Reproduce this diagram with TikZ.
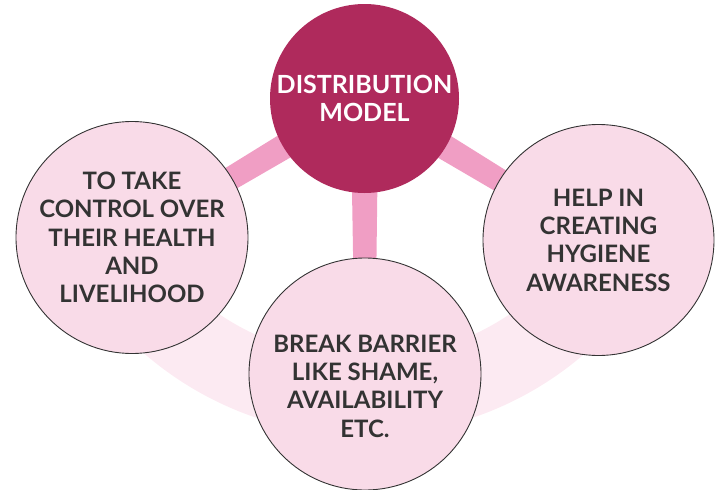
\documentclass[tikz,border=0pt]{standalone}
\usepackage{fontspec}
\setmainfont{Lato}
\usetikzlibrary{calc}
\definecolor{cmain}{HTML}{AF2A5C}
\definecolor{cbar}{HTML}{F09EC4}
\definecolor{cband}{HTML}{FCEAF2}
\definecolor{cfill}{HTML}{F9DBE8}
\definecolor{ctext}{HTML}{333333}
\tikzset{
  hub/.style={circle, fill=cmain, inner sep=0pt, minimum size=189pt, text=white, align=center,
    font=\fontsize{25}{28.5}\selectfont\bfseries},
  petal/.style={circle, fill=cfill, draw=ctext, line width=0.9pt, inner sep=0pt, minimum size=232pt,
    text=ctext, align=center, font=\fontsize{24}{28.3}\selectfont\bfseries},
  bar/.style={fill=cbar},
  band/.style={fill=cband, even odd rule}
}
\begin{document}
\begin{tikzpicture}[x=1pt,y=-1pt]
\useasboundingbox (0,0) rectangle (715,490);
\coordinate (o) at (364.5,98.5);
\begin{scope}
  \clip (364.5,98.5) -- (19,299) -- (19,600) -- (711,600) -- (711,299) -- cycle;
  \fill[band] (o) circle[radius=337pt] (o) circle[radius=260pt];
\end{scope}
\path (364.5,98.5) coordinate (cc);
\path (132,237.5) coordinate (lc);
\path (598.5,240) coordinate (rc);
\path (365,374) coordinate (bc);
\foreach \t in {lc,rc,bc}{
  \fill[bar] ($(cc)!14pt!90:(\t)$) -- ($(cc)!14pt!-90:(\t)$) -- ($(\t)!10pt!90:(cc)$) -- ($(\t)!10pt!-90:(cc)$) -- cycle;
}
\node[hub] (c) at (cc) {DISTRIBUTION\\MODEL};
\node[petal] (l) at (lc) {TO TAKE\\CONTROL OVER\\THEIR HEALTH\\AND\\LIVELIHOOD};
\node[petal, minimum size=231pt] (r) at (rc) {HELP IN\\CREATING\\HYGIENE\\AWARENESS};
\node[petal] (b) at (bc) {};
\node[text=ctext, align=center, font=\fontsize{24}{28.3}\selectfont\bfseries] (bt) at ($(b.center)+(0,12)$) {BREAK BARRIER\\LIKE SHAME,\\AVAILABILITY\\ETC.};
\end{tikzpicture}
\end{document}
